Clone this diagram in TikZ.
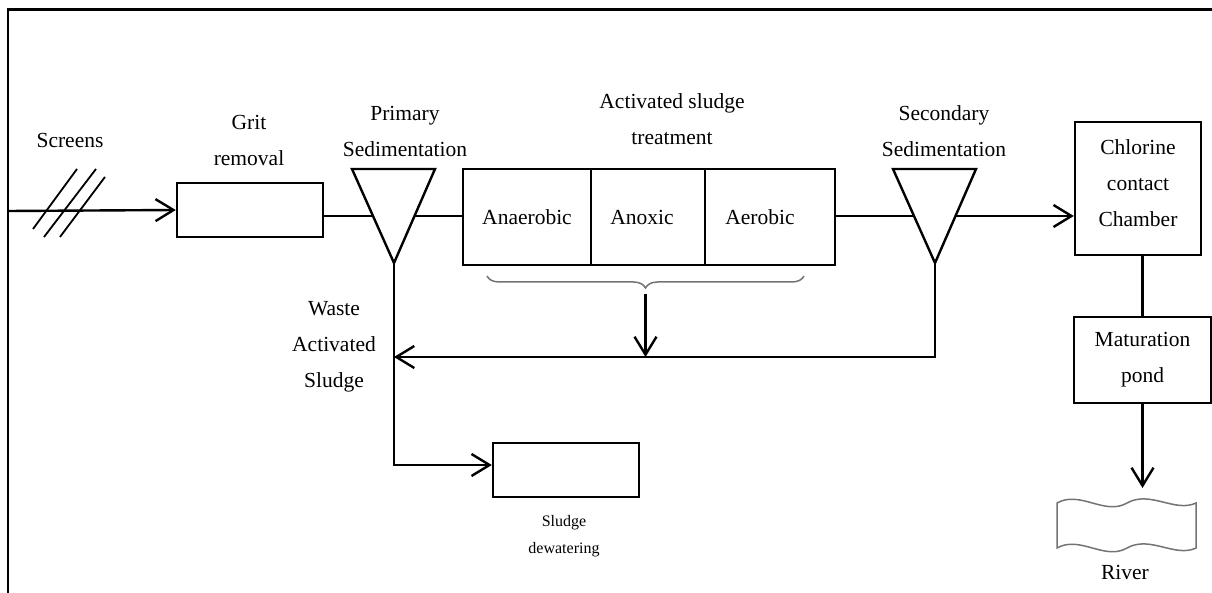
\documentclass[tikz,border=0pt]{standalone}
\usepackage{fontspec}
\setmainfont{Liberation Serif}
\usetikzlibrary{arrows.meta,decorations.pathreplacing,calc}

\begin{document}
\begin{tikzpicture}[x=1pt,y=-1pt,
  line width=2.4pt,
  arr/.style={-{Straight Barb[length=18pt,width=22pt]}},
  box/.style={draw, rectangle, inner sep=0pt, align=center,
    font=\fontsize{21.5}{36}\selectfont},
  lbl/.style={align=center, inner sep=0pt, font=\fontsize{21.5}{36}\selectfont},
  small/.style={align=center, inner sep=0pt, font=\fontsize{16}{27}\selectfont},
  soft/.style={draw=black!55, line width=1.5pt}
]
\useasboundingbox (0,0) rectangle (1212,593);

% frame
\draw[line width=2.8pt] (1212,9.5) -- (8,9.5) -- (8,593);

% process boxes
\node[box, minimum width=146pt, minimum height=54pt] (grit) at (250,210) {};
\node[box, minimum width=128pt, minimum height=96pt] (anaer) at (527,217) {Anaerobic};
\node[box, minimum width=114pt, minimum height=96pt] (anox) at (648,217) {Anoxic\hspace{12pt}};
\node[box, minimum width=130pt, minimum height=96pt] (aer) at (770,217) {Aerobic\hspace{20pt}};
\node[box, minimum width=126pt, minimum height=133pt] (chlor) at (1138,188.5) {Chlorine\\contact\\Chamber\\[-26pt]};
\node[box, minimum width=137pt, minimum height=86pt] (mat) at (1142.5,360) {Maturation\\pond};
\node[box, minimum width=146pt, minimum height=54pt] (sludge) at (566,470) {};

% sedimentation tanks (inverted triangles)
\coordinate (ptl) at (352,169);
\coordinate (ptr) at (435,169);
\coordinate (pap) at (394,263);
\draw (ptl) -- (ptr) -- (pap) -- cycle;
\coordinate (pL) at ($(ptl)!0.5!(pap)$);
\coordinate (pR) at ($(ptr)!0.5!(pap)$);

\coordinate (stl) at (893,169);
\coordinate (str) at (976,169);
\coordinate (sap) at (935,263);
\draw (stl) -- (str) -- (sap) -- cycle;
\coordinate (sL) at ($(stl)!0.5!(sap)$);
\coordinate (sR) at ($(str)!0.5!(sap)$);

% screens
\begin{scope}[line width=1.8pt]
  \draw (33,229) -- (77,169);
  \draw (44,237) -- (96,169);
  \draw (60,237) -- (105,177);
\end{scope}

% labels
\node[lbl] (screensl) at (70,140) {Screens};
\node[lbl] (gritl) at (249,140) {Grit\\removal};
\node[lbl] (priml) at (405,131) {Primary\\Sedimentation};
\node[lbl] (asl) at (672,119) {Activated sludge\\treatment};
\node[lbl] (secl) at (944,131) {Secondary\\Sedimentation};
\node[lbl] (wasl) at (334,347) {Waste\\Activated\\Sludge};
\node[small] (sludgel) at (564,536) {Sludge\\dewatering};
\node[lbl] (riverl) at (1125,572) {River};

% river
\draw[soft] (1057,503) .. controls (1080,490) and (1105,516) .. (1127,503)
  .. controls (1150,490) and (1175,513) .. (1196,503) -- (1196,548)
  .. controls (1175,558) and (1150,535) .. (1127,548)
  .. controls (1105,561) and (1080,535) .. (1057,548) -- cycle;
\coordinate (rivtop) at (1142.5,488);

% brace under the activated sludge reactors
\coordinate (bl) at (487,276);
\coordinate (br) at (804,276);
\draw[soft, decorate, decoration={brace, mirror, amplitude=12pt}] (bl) -- (br);
\coordinate (btip) at (645.5,294);

% flow lines
\coordinate (src) at (8,211);
\coordinate (ret) at (394,357);
\draw[arr] (src) -- (grit.west);
\draw (grit.east |- pL) -- (pL);
\draw (pR) -- (pR -| anaer.west);
\draw (aer.east |- sL) -- (sL);
\draw[arr] (sR) -- (sR -| chlor.west);
\draw (chlor.south -| mat.north) -- (mat.north);
\draw[arr] (mat.south) -- (rivtop);
\draw[arr] (sap) |- (ret);
\draw[arr] (btip) -- (btip |- ret);
\draw[arr] (pap) |- ([yshift=5pt]sludge.west);
\end{tikzpicture}
\end{document}
